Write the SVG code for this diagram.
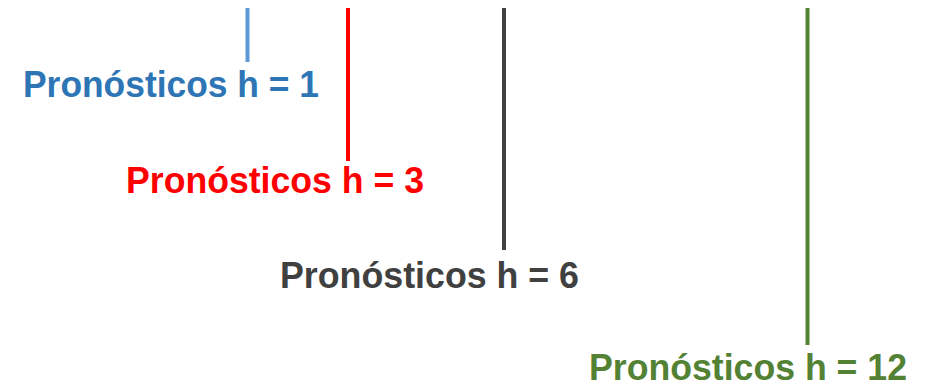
<svg xmlns="http://www.w3.org/2000/svg" width="925" height="388" viewBox="0 0 925 388">
<style>
.lbl{font-family:"Liberation Sans",Arial,sans-serif;font-weight:bold;font-size:36px}
.ln{stroke-width:4;fill:none}
</style>
<rect width="925" height="388" fill="#ffffff"/>
<g id="connectors">
<line class="ln" x1="247.5" y1="8" x2="247.5" y2="62" stroke="#5b9bd5"/>
<line class="ln" x1="348" y1="8" x2="348" y2="161" stroke="#ff0000"/>
<line class="ln" x1="504" y1="8" x2="504" y2="250" stroke="#404040"/>
<line class="ln" x1="807.5" y1="8" x2="807.5" y2="345" stroke="#548235"/>
</g>
<g id="h1"><text class="lbl" x="23" y="97" fill="#2e75b6" textLength="296" lengthAdjust="spacingAndGlyphs">Pronósticos h = 1</text></g>
<g id="h3"><text class="lbl" x="126" y="193" fill="#ff0000" textLength="298" lengthAdjust="spacingAndGlyphs">Pronósticos h = 3</text></g>
<g id="h6"><text class="lbl" x="280" y="288" fill="#404040" textLength="299" lengthAdjust="spacingAndGlyphs">Pronósticos h = 6</text></g>
<g id="h12"><text class="lbl" x="589" y="380" fill="#548235" textLength="318" lengthAdjust="spacingAndGlyphs">Pronósticos h = 12</text></g>
</svg>
